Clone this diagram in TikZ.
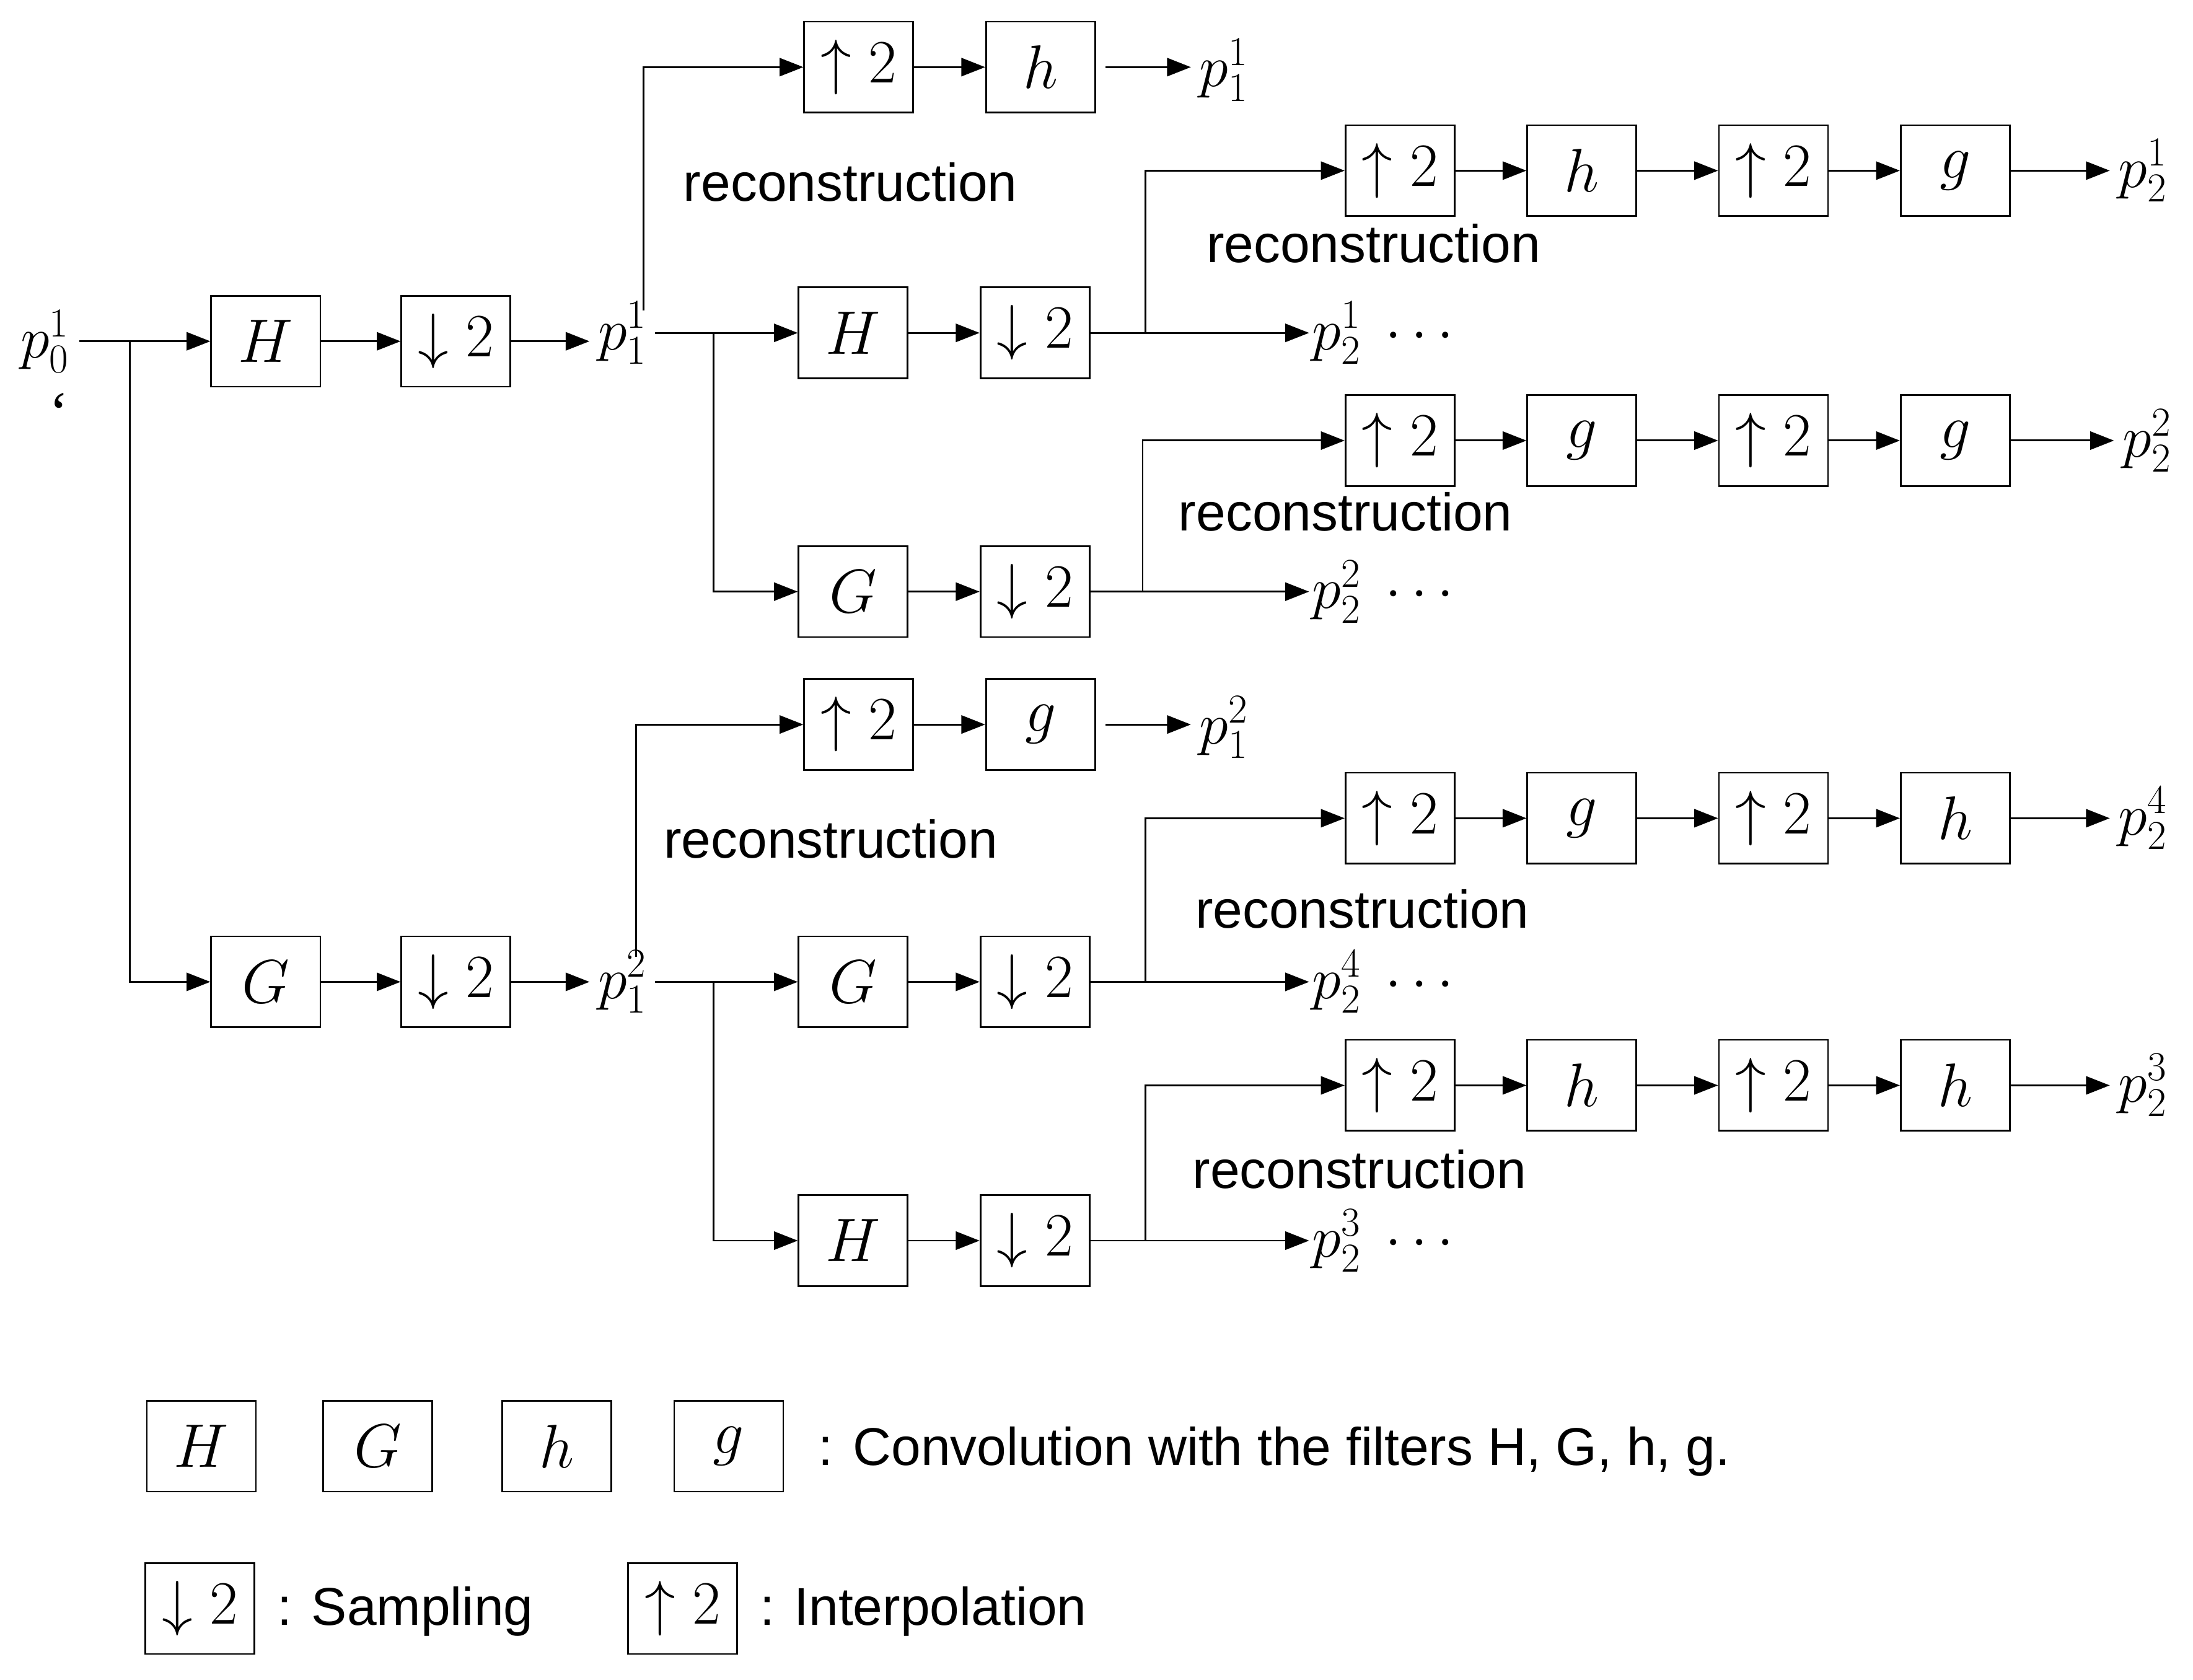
\RequirePackage{fix-cm}
\documentclass[tikz,border=0pt]{standalone}
\usepackage{fontspec}
\setmainfont{Liberation Serif}
\newfontfamily\sansf{Liberation Sans}
\usetikzlibrary{arrows.meta}
\newcommand\bxf{\fontsize{44}{50}\selectfont}
\newcommand\recf{\sansf\fontsize{38}{44}\selectfont}
\newcommand\labf{\fontsize{42}{48}\selectfont}
\begin{document}
\begin{tikzpicture}[x=1pt,y=-1pt,
 bx/.style={draw,line width=1.2pt,minimum width=78pt,minimum height=65pt,inner sep=0pt,font=\bxf},
 ar/.style={-{Triangle[length=17pt,width=13pt]},line width=1.3pt},
 ln/.style={line width=1.3pt},
 rec/.style={font=\recf,inner sep=0pt},
 lab/.style={font=\labf,inner sep=6pt}]
\useasboundingbox (0,0) rectangle (1568,1201);
% ---- level 0
\node[lab,inner sep=1pt] (p0) at (32,244) {$p_0^1$};
\node[lab] (q) at (42,295) {‘};
\coordinate (b0) at (93,244);
\node[bx] (H1) at (190,244) {$H$};
\node[bx] (D1) at (326,244) {$\downarrow 2$};
\node[lab] (p11) at (445,238) {$p_1^1$};
\node[bx] (G1) at (190,702) {$G$};
\node[bx] (D2) at (326,702) {$\downarrow 2$};
\node[lab] (p12) at (445,702) {$p_1^2$};
\draw[ar] (p0.east)++(6,0) -- (H1.west|-p0);
\draw[ar] (H1) -- (D1);
\draw[ar] (D1) -- (p11.west|-D1);
\draw[ar] (b0) |- (G1.west);
\draw[ar] (G1) -- (D2);
\draw[ar] (D2) -- (p12.west);
% ---- p11 reconstruction
\coordinate (u1) at (460,222);
\node[bx] (U1) at (614,48) {$\uparrow 2$};
\node[bx] (h1) at (744,48) {$h$};
\node[lab] (r1) at (875,50) {$p_1^1$};
\node[rec] (t1) at (608,130) {reconstruction};
\draw[ar] (u1) |- (U1.west);
\draw[ar] (U1) -- (h1);
\draw[ar] (h1.east)++(7,0) -- (r1.west|-h1);
% ---- p11 branch H
\coordinate (b1) at (510,238);
\node[bx] (H2) at (610,238) {$H$};
\node[bx] (D3) at (740,238) {$\downarrow 2$};
\node[lab,anchor=west,inner sep=2pt] (e1) at (936,238) {$p_2^1\ \cdots$};
\draw[ar] (p11.east) -- (H2);
\draw[ar] (H2) -- (D3);
\draw[ar] (D3) -- (e1.west);
\coordinate (c1) at (819,238);
\node[bx] (U2) at (1001,122) {$\uparrow 2$};
\node[bx] (h2) at (1131,122) {$h$};
\node[bx] (U3) at (1268,122) {$\uparrow 2$};
\node[bx] (g2) at (1398,122) {$g$};
\node[lab] (r2) at (1532,122) {$p_2^1$};
\node[rec] (t2) at (982,174) {reconstruction};
\draw[ar] (c1) |- (U2.west);
\draw[ar] (U2) -- (h2); \draw[ar] (h2) -- (U3); \draw[ar] (U3) -- (g2);
\draw[ar] (g2) -- (r2.west);
% ---- p11 branch G
\node[bx] (G2) at (610,423) {$G$};
\node[bx] (D4) at (740,423) {$\downarrow 2$};
\node[lab,anchor=west,inner sep=2pt] (e2) at (936,423) {$p_2^2\ \cdots$};
\draw[ar] (b1) |- (G2.west);
\draw[ar] (G2) -- (D4);
\draw[ar] (D4) -- (e2.west);
\coordinate (c2) at (817,423);
\node[bx] (U4) at (1001,315) {$\uparrow 2$};
\node[bx] (g3) at (1131,315) {$g$};
\node[bx] (U5) at (1268,315) {$\uparrow 2$};
\node[bx] (g4) at (1398,315) {$g$};
\node[lab] (r3) at (1535,315) {$p_2^2$};
\node[rec] (t3) at (962,366) {reconstruction};
\draw[ar] (c2) |- (U4.west);
\draw[ar] (U4) -- (g3); \draw[ar] (g3) -- (U5); \draw[ar] (U5) -- (g4);
\draw[ar] (g4) -- (r3.west);
% ---- p12 reconstruction
\coordinate (u2) at (455,684);
\node[bx] (U6) at (614,518) {$\uparrow 2$};
\node[bx] (g5) at (744,518) {$g$};
\node[lab] (r4) at (875,520) {$p_1^2$};
\node[rec] (t4) at (594,600) {reconstruction};
\draw[ar] (u2) |- (U6.west);
\draw[ar] (U6) -- (g5);
\draw[ar] (g5.east)++(7,0) -- (r4.west|-g5);
% ---- p12 branch G
\coordinate (b2) at (510,702);
\node[bx] (G3) at (610,702) {$G$};
\node[bx] (D5) at (740,702) {$\downarrow 2$};
\node[lab,anchor=west,inner sep=2pt] (e3) at (936,702) {$p_2^4\ \cdots$};
\draw[ar] (p12.east) -- (G3);
\draw[ar] (G3) -- (D5);
\draw[ar] (D5) -- (e3.west);
\coordinate (c3) at (819,702);
\node[bx] (U7) at (1001,585) {$\uparrow 2$};
\node[bx] (g6) at (1131,585) {$g$};
\node[bx] (U8) at (1268,585) {$\uparrow 2$};
\node[bx] (h6) at (1398,585) {$h$};
\node[lab] (r5) at (1532,585) {$p_2^4$};
\node[rec] (t5) at (974,650) {reconstruction};
\draw[ar] (c3) |- (U7.west);
\draw[ar] (U7) -- (g6); \draw[ar] (g6) -- (U8); \draw[ar] (U8) -- (h6);
\draw[ar] (h6) -- (r5.west);
% ---- p12 branch H
\node[bx] (H4) at (610,887) {$H$};
\node[bx] (D6) at (740,887) {$\downarrow 2$};
\node[lab,anchor=west,inner sep=2pt] (e4) at (936,887) {$p_2^3\ \cdots$};
\draw[ar] (b2) |- (H4.west);
\draw[ar] (H4) -- (D6);
\draw[ar] (D6) -- (e4.west);
\coordinate (c4) at (819,887);
\node[bx] (U9) at (1001,776) {$\uparrow 2$};
\node[bx] (h7) at (1131,776) {$h$};
\node[bx] (U10) at (1268,776) {$\uparrow 2$};
\node[bx] (h8) at (1398,776) {$h$};
\node[lab] (r6) at (1532,776) {$p_2^3$};
\node[rec] (t6) at (972,836) {reconstruction};
\draw[ar] (c4) |- (U9.west);
\draw[ar] (U9) -- (h7); \draw[ar] (h7) -- (U10); \draw[ar] (U10) -- (h8);
\draw[ar] (h8) -- (r6.west);
% ---- legend
\node[bx] (LH) at (144,1034) {$H$};
\node[bx] (LG) at (270,1034) {$G$};
\node[bx] (Lh) at (398,1034) {$h$};
\node[bx] (Lg) at (521,1034) {$g$};
\node[rec,anchor=west] (Lt1) at (585,1038) {: Convolution with the filters H, G, h, g.};
\node[bx] (LD) at (143,1150) {$\downarrow 2$};
\node[rec,anchor=west] (Lt2) at (198,1152) {: Sampling};
\node[bx] (LU) at (488,1150) {$\uparrow 2$};
\node[rec,anchor=west] (Lt3) at (543,1152) {: Interpolation};
\end{tikzpicture}
\end{document}
